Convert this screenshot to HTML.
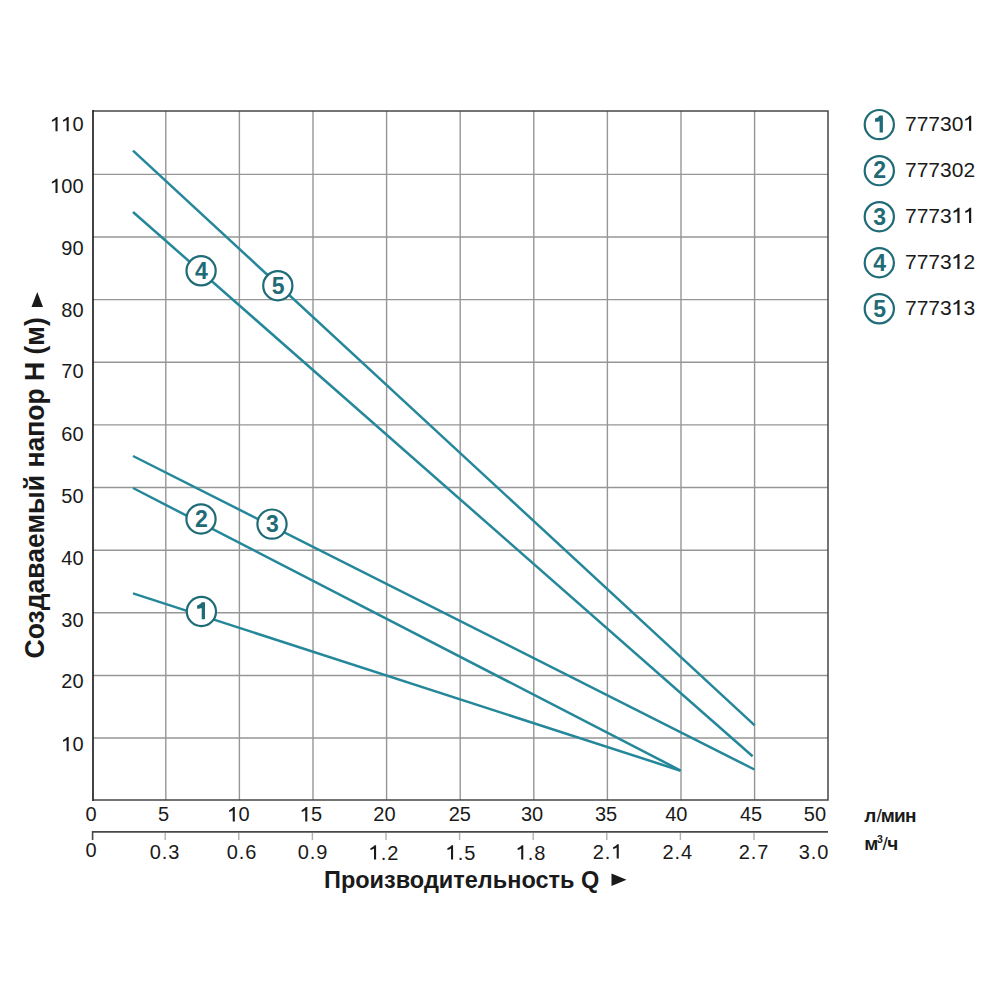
<!DOCTYPE html>
<html><head><meta charset="utf-8"><style>
html,body{margin:0;padding:0;background:#fff;}
svg{display:block;font-family:"Liberation Sans", sans-serif;}
</style></head><body>
<svg width="1000" height="1000" viewBox="0 0 1000 1000">
<rect width="1000" height="1000" fill="#fff"/>
<line x1="165.80" y1="111" x2="165.80" y2="800" stroke="#969696" stroke-width="1.4"/>
<line x1="239.40" y1="111" x2="239.40" y2="800" stroke="#969696" stroke-width="1.4"/>
<line x1="313.00" y1="111" x2="313.00" y2="800" stroke="#969696" stroke-width="1.4"/>
<line x1="386.60" y1="111" x2="386.60" y2="800" stroke="#969696" stroke-width="1.4"/>
<line x1="460.20" y1="111" x2="460.20" y2="800" stroke="#969696" stroke-width="1.4"/>
<line x1="533.80" y1="111" x2="533.80" y2="800" stroke="#969696" stroke-width="1.4"/>
<line x1="607.40" y1="111" x2="607.40" y2="800" stroke="#969696" stroke-width="1.4"/>
<line x1="681.00" y1="111" x2="681.00" y2="800" stroke="#969696" stroke-width="1.4"/>
<line x1="754.60" y1="111" x2="754.60" y2="800" stroke="#969696" stroke-width="1.4"/>
<line x1="93" y1="738.07" x2="828" y2="738.07" stroke="#969696" stroke-width="1.4"/>
<line x1="93" y1="675.44" x2="828" y2="675.44" stroke="#969696" stroke-width="1.4"/>
<line x1="93" y1="612.81" x2="828" y2="612.81" stroke="#969696" stroke-width="1.4"/>
<line x1="93" y1="550.18" x2="828" y2="550.18" stroke="#969696" stroke-width="1.4"/>
<line x1="93" y1="487.55" x2="828" y2="487.55" stroke="#969696" stroke-width="1.4"/>
<line x1="93" y1="424.92" x2="828" y2="424.92" stroke="#969696" stroke-width="1.4"/>
<line x1="93" y1="362.29" x2="828" y2="362.29" stroke="#969696" stroke-width="1.4"/>
<line x1="93" y1="299.66" x2="828" y2="299.66" stroke="#969696" stroke-width="1.4"/>
<line x1="93" y1="237.03" x2="828" y2="237.03" stroke="#969696" stroke-width="1.4"/>
<line x1="93" y1="174.40" x2="828" y2="174.40" stroke="#969696" stroke-width="1.4"/>
<path d="M93,111 H828 V800 H93" fill="none" stroke="#474747" stroke-width="1.5"/>
<line x1="93" y1="110.1" x2="93" y2="800.9" stroke="#222" stroke-width="1.7"/>
<path d="M92.6,840 V831.9 H828" fill="none" stroke="#484848" stroke-width="1.6"/>
<line x1="165.20" y1="833" x2="165.20" y2="840" stroke="#b0b0b0" stroke-width="1.4"/>
<line x1="238.80" y1="833" x2="238.80" y2="840" stroke="#b0b0b0" stroke-width="1.4"/>
<line x1="312.40" y1="833" x2="312.40" y2="840" stroke="#b0b0b0" stroke-width="1.4"/>
<line x1="386.00" y1="833" x2="386.00" y2="840" stroke="#b0b0b0" stroke-width="1.4"/>
<line x1="459.60" y1="833" x2="459.60" y2="840" stroke="#b0b0b0" stroke-width="1.4"/>
<line x1="533.20" y1="833" x2="533.20" y2="840" stroke="#b0b0b0" stroke-width="1.4"/>
<line x1="606.80" y1="833" x2="606.80" y2="840" stroke="#b0b0b0" stroke-width="1.4"/>
<line x1="680.40" y1="833" x2="680.40" y2="840" stroke="#b0b0b0" stroke-width="1.4"/>
<line x1="754.00" y1="833" x2="754.00" y2="840" stroke="#b0b0b0" stroke-width="1.4"/>
<line x1="133" y1="593.4" x2="680.6" y2="770.7" stroke="#25879a" stroke-width="2.5"/>
<line x1="133" y1="488.0" x2="680.6" y2="770.5" stroke="#25879a" stroke-width="2.5"/>
<line x1="133" y1="456.0" x2="754.4" y2="769.5" stroke="#25879a" stroke-width="2.5"/>
<line x1="133" y1="212.0" x2="752.6" y2="756.2" stroke="#25879a" stroke-width="2.5"/>
<line x1="133" y1="150.6" x2="754.7" y2="725.3" stroke="#25879a" stroke-width="2.5"/>
<circle cx="201.4" cy="611.5" r="14.6" fill="#fff" stroke="#1f6b77" stroke-width="2.2"/><path d="M201.70,602.30 H205.00 V619.30 H201.70 V608.10 Q199.60,608.90 197.10,608.70 V605.50 Q200.60,604.70 201.70,602.30 Z" fill="#1f6b77"/>
<circle cx="201" cy="519" r="14.6" fill="#fff" stroke="#1f6b77" stroke-width="2.2"/><text x="201.30" y="526.80" text-anchor="middle" font-weight="bold" font-size="23" fill="#1f6b77">2</text>
<circle cx="272" cy="524.1" r="14.6" fill="#fff" stroke="#1f6b77" stroke-width="2.2"/><text x="272.30" y="531.90" text-anchor="middle" font-weight="bold" font-size="23" fill="#1f6b77">3</text>
<circle cx="201.1" cy="270.8" r="14.6" fill="#fff" stroke="#1f6b77" stroke-width="2.2"/><text x="201.40" y="278.60" text-anchor="middle" font-weight="bold" font-size="23" fill="#1f6b77">4</text>
<circle cx="277.8" cy="285.7" r="14.6" fill="#fff" stroke="#1f6b77" stroke-width="2.2"/><text x="278.10" y="293.50" text-anchor="middle" font-weight="bold" font-size="23" fill="#1f6b77">5</text>
<circle cx="879.3" cy="124.6" r="14.6" fill="#fff" stroke="#1f6b77" stroke-width="2.2"/><path d="M879.60,115.40 H882.90 V132.40 H879.60 V121.20 Q877.50,122.00 875.00,121.80 V118.60 Q878.50,117.80 879.60,115.40 Z" fill="#1f6b77"/>
<text x="905.00 916.68 928.36 940.04 951.72" y="130.80" font-size="21" fill="#1a1a1a">77730</text><path d="M971.21,115.76 L971.21,130.80 L969.02,130.80 L969.02,119.04 Q967.39,120.30 965.24,120.82 L965.24,119.00 Q968.02,117.99 969.70,115.76 Z" fill="#1a1a1a"/>
<circle cx="879.3" cy="170.64999999999998" r="14.6" fill="#fff" stroke="#1f6b77" stroke-width="2.2"/><text x="879.60" y="178.45" text-anchor="middle" font-weight="bold" font-size="23" fill="#1f6b77">2</text>
<text x="905.00 916.68 928.36 940.04 951.72 963.40" y="176.85" font-size="21" fill="#1a1a1a">777302</text>
<circle cx="879.3" cy="216.7" r="14.6" fill="#fff" stroke="#1f6b77" stroke-width="2.2"/><text x="879.60" y="224.50" text-anchor="middle" font-weight="bold" font-size="23" fill="#1f6b77">3</text>
<text x="905.00 916.68 928.36 940.04" y="222.90" font-size="21" fill="#1a1a1a">7773</text><path d="M959.53,207.86 L959.53,222.90 L957.34,222.90 L957.34,211.14 Q955.71,212.40 953.56,212.92 L953.56,211.10 Q956.34,210.09 958.02,207.86 Z" fill="#1a1a1a"/><path d="M971.21,207.86 L971.21,222.90 L969.02,222.90 L969.02,211.14 Q967.39,212.40 965.24,212.92 L965.24,211.10 Q968.02,210.09 969.70,207.86 Z" fill="#1a1a1a"/>
<circle cx="879.3" cy="262.75" r="14.6" fill="#fff" stroke="#1f6b77" stroke-width="2.2"/><text x="879.60" y="270.55" text-anchor="middle" font-weight="bold" font-size="23" fill="#1f6b77">4</text>
<text x="905.00 916.68 928.36 940.04 963.40" y="268.95" font-size="21" fill="#1a1a1a">77732</text><path d="M959.53,253.91 L959.53,268.95 L957.34,268.95 L957.34,257.19 Q955.71,258.45 953.56,258.97 L953.56,257.15 Q956.34,256.14 958.02,253.91 Z" fill="#1a1a1a"/>
<circle cx="879.3" cy="308.79999999999995" r="14.6" fill="#fff" stroke="#1f6b77" stroke-width="2.2"/><text x="879.60" y="316.60" text-anchor="middle" font-weight="bold" font-size="23" fill="#1f6b77">5</text>
<text x="905.00 916.68 928.36 940.04 963.40" y="315.00" font-size="21" fill="#1a1a1a">77733</text><path d="M959.53,299.96 L959.53,315.00 L957.34,315.00 L957.34,303.24 Q955.71,304.50 953.56,305.02 L953.56,303.20 Q956.34,302.19 958.02,299.96 Z" fill="#1a1a1a"/>
<text x="72.38" y="751.20" font-size="20" fill="#1a1a1a">0</text><path d="M68.69,736.88 L68.69,751.20 L66.61,751.20 L66.61,740.00 Q65.05,741.20 63.01,741.70 L63.01,739.96 Q65.65,739.00 67.25,736.88 Z" fill="#1a1a1a"/>
<text x="61.25 72.38" y="688.40" font-size="20" fill="#1a1a1a">20</text>
<text x="61.25 72.38" y="626.60" font-size="20" fill="#1a1a1a">30</text>
<text x="61.25 72.38" y="564.80" font-size="20" fill="#1a1a1a">40</text>
<text x="61.25 72.38" y="503.00" font-size="20" fill="#1a1a1a">50</text>
<text x="61.25 72.38" y="441.20" font-size="20" fill="#1a1a1a">60</text>
<text x="61.25 72.38" y="378.40" font-size="20" fill="#1a1a1a">70</text>
<text x="61.25 72.38" y="316.60" font-size="20" fill="#1a1a1a">80</text>
<text x="61.25 72.38" y="254.80" font-size="20" fill="#1a1a1a">90</text>
<text x="61.25 72.38" y="193.00" font-size="20" fill="#1a1a1a">00</text><path d="M57.57,178.68 L57.57,193.00 L55.49,193.00 L55.49,181.80 Q53.93,183.00 51.89,183.50 L51.89,181.76 Q54.53,180.80 56.13,178.68 Z" fill="#1a1a1a"/>
<text x="72.38" y="131.20" font-size="20" fill="#1a1a1a">0</text><path d="M57.57,116.88 L57.57,131.20 L55.49,131.20 L55.49,120.00 Q53.93,121.20 51.89,121.70 L51.89,119.96 Q54.53,119.00 56.13,116.88 Z" fill="#1a1a1a"/><path d="M68.69,116.88 L68.69,131.20 L66.61,131.20 L66.61,120.00 Q65.05,121.20 63.01,121.70 L63.01,119.96 Q65.65,119.00 67.25,116.88 Z" fill="#1a1a1a"/>
<text x="85.54" y="821.40" font-size="20" fill="#1a1a1a">0</text>
<text x="158.04" y="821.40" font-size="20" fill="#1a1a1a">5</text>
<text x="238.50" y="821.40" font-size="20" fill="#1a1a1a">0</text><path d="M234.82,807.08 L234.82,821.40 L232.74,821.40 L232.74,810.20 Q231.18,811.40 229.14,811.90 L229.14,810.16 Q231.78,809.20 233.38,807.08 Z" fill="#1a1a1a"/>
<text x="311.00" y="821.40" font-size="20" fill="#1a1a1a">5</text><path d="M307.32,807.08 L307.32,821.40 L305.24,821.40 L305.24,810.20 Q303.68,811.40 301.64,811.90 L301.64,810.16 Q304.28,809.20 305.88,807.08 Z" fill="#1a1a1a"/>
<text x="373.28 384.40" y="821.40" font-size="20" fill="#1a1a1a">20</text>
<text x="448.68 459.80" y="821.40" font-size="20" fill="#1a1a1a">25</text>
<text x="520.88 532.00" y="821.40" font-size="20" fill="#1a1a1a">30</text>
<text x="594.98 606.10" y="821.40" font-size="20" fill="#1a1a1a">35</text>
<text x="665.18 676.30" y="821.40" font-size="20" fill="#1a1a1a">40</text>
<text x="739.98 751.10" y="821.40" font-size="20" fill="#1a1a1a">45</text>
<text x="803.78 814.90" y="821.40" font-size="20" fill="#1a1a1a">50</text>
<text x="85.54" y="856.70" font-size="20" fill="#1a1a1a">0</text>
<text x="149.85 161.87 168.33" y="858.60" font-size="20" fill="#1a1a1a">0.3</text>
<text x="226.75 238.77 245.23" y="858.60" font-size="20" fill="#1a1a1a">0.6</text>
<text x="297.75 309.77 316.23" y="858.60" font-size="20" fill="#1a1a1a">0.9</text>
<text x="380.67 387.13" y="859.60" font-size="20" fill="#1a1a1a">.2</text><path d="M376.09,845.28 L376.09,859.60 L374.01,859.60 L374.01,848.40 Q372.45,849.60 370.41,850.10 L370.41,848.36 Q373.05,847.40 374.65,845.28 Z" fill="#1a1a1a"/>
<text x="457.67 464.13" y="859.60" font-size="20" fill="#1a1a1a">.5</text><path d="M453.09,845.28 L453.09,859.60 L451.01,859.60 L451.01,848.40 Q449.45,849.60 447.41,850.10 L447.41,848.36 Q450.05,847.40 451.65,845.28 Z" fill="#1a1a1a"/>
<text x="527.87 534.33" y="859.60" font-size="20" fill="#1a1a1a">.8</text><path d="M523.29,845.28 L523.29,859.60 L521.21,859.60 L521.21,848.40 Q519.65,849.60 517.61,850.10 L517.61,848.36 Q520.25,847.40 521.85,845.28 Z" fill="#1a1a1a"/>
<text x="592.85 604.87" y="858.60" font-size="20" fill="#1a1a1a">2.</text><path d="M618.77,844.28 L618.77,858.60 L616.69,858.60 L616.69,847.40 Q615.13,848.60 613.09,849.10 L613.09,847.36 Q615.73,846.40 617.33,844.28 Z" fill="#1a1a1a"/>
<text x="662.45 674.47 680.93" y="858.60" font-size="20" fill="#1a1a1a">2.4</text>
<text x="738.85 750.87 757.33" y="858.60" font-size="20" fill="#1a1a1a">2.7</text>
<text x="798.85 810.87 817.33" y="858.60" font-size="20" fill="#1a1a1a">3.0</text>
<text x="864.3" y="822.3" font-size="19" letter-spacing="-0.8" fill="#1a1a1a"><tspan font-weight="bold">л</tspan><tspan dx="0.8">/</tspan><tspan font-weight="bold">мин</tspan></text>
<text x="864.3" y="850.0" font-size="19" fill="#1a1a1a"><tspan font-weight="bold">м</tspan><tspan font-size="10.5" dy="-6.8" dx="-1.4" font-weight="bold">3</tspan><tspan dy="6.8" dx="-0.3">/</tspan><tspan font-weight="bold" dx="-0.6">ч</tspan></text>
<text x="324" y="887.5" font-weight="bold" font-size="23.5" fill="#1a1a1a">Производительность Q</text>
<path d="M611.5,873.5 L626.5,879.8 L611.5,886 Z" fill="#1a1a1a"/>
<text transform="translate(44.3,658.5) rotate(-90) scale(0.965,1)" x="0" y="0" font-weight="bold" font-size="27.5" fill="#1a1a1a">Создаваемый напор H (м)</text>
<path d="M31.5,307 L37.25,292 L43,307 Z" fill="#1a1a1a"/>
</svg>
</body></html>
